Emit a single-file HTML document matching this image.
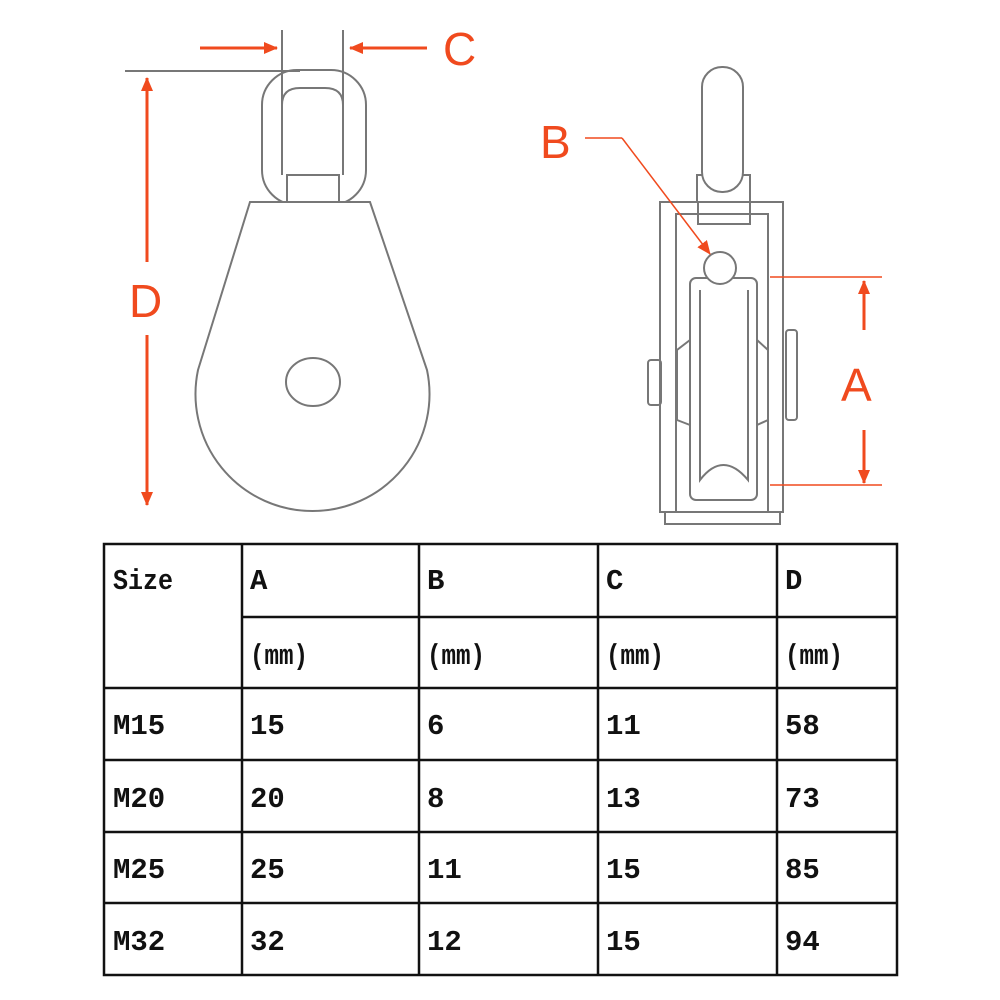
<!DOCTYPE html>
<html><head><meta charset="utf-8"><style>
body{margin:0;background:#fff;width:1000px;height:1000px;overflow:hidden;position:relative}
svg{position:absolute;left:0;top:0}
.t{font-family:"Liberation Mono","Noto Sans CJK SC",monospace;font-weight:bold;font-size:29px;fill:#111}
.r{font-family:"Liberation Sans",sans-serif;font-size:46px;fill:#f04a1e}
</style></head><body>
<svg width="1000" height="1000" viewBox="0 0 1000 1000">
<defs>
<marker id="ah" markerWidth="14" markerHeight="14" refX="13" refY="7" orient="auto" markerUnits="userSpaceOnUse">
<path d="M0,1 L14,7 L0,13 Z" fill="#f04a1e"/></marker>
</defs>
<g fill="none" stroke="#777" stroke-width="2">
<line x1="282" y1="30" x2="282" y2="175"/>
<line x1="343" y1="30" x2="343" y2="175"/>
<line x1="125" y1="71" x2="300" y2="71"/>
<rect x="262" y="70" width="104" height="135" rx="35"/>
<path d="M282,175 L282,105 Q282,88 300,88 L325,88 Q343,88 343,105 L343,175"/>
<rect x="287" y="175" width="52" height="27" fill="#fff"/>
<path d="M250,202 L370,202 L427,370 A117,117 0 1 1 198,370 Z" fill="#fff"/>
<ellipse cx="313" cy="382" rx="27" ry="24"/>
<rect x="702" y="67" width="41" height="125" rx="20"/>
<path d="M697,202 L697,175 L702,175 M743,175 L750,175 L750,202"/>
<rect x="698" y="202" width="52" height="22"/>
<rect x="660" y="202" width="123" height="310"/>
<path d="M676,512 L676,214 L768,214 L768,512"/>
<rect x="665" y="512" width="115" height="12"/>
<rect x="690" y="278" width="67" height="222" rx="6"/>
<path d="M700,290 L700,480 Q723,450 748,480 L748,290"/>
<circle cx="720" cy="268" r="16" fill="#fff"/>
<path d="M690,340 L677,350 L677,420 L690,425"/>
<path d="M757,340 L768,350 L768,420 L757,425"/>
<rect x="648" y="360" width="13" height="45" rx="3"/>
<rect x="786" y="330" width="11" height="90" rx="3"/>
</g>
<g stroke="#f04a1e" stroke-width="3" fill="none">
<line x1="200" y1="48" x2="277" y2="48" marker-end="url(#ah)"/>
<line x1="427" y1="48" x2="350" y2="48" marker-end="url(#ah)"/>
<line x1="147" y1="262" x2="147" y2="78" marker-end="url(#ah)"/>
<line x1="147" y1="335" x2="147" y2="505" marker-end="url(#ah)"/>
<line x1="864" y1="330" x2="864" y2="281" marker-end="url(#ah)"/>
<line x1="864" y1="430" x2="864" y2="483" marker-end="url(#ah)"/>
<line x1="585" y1="138" x2="622" y2="138" stroke-width="1.5"/>
<line x1="622" y1="138" x2="710" y2="254" stroke-width="1.5" marker-end="url(#ah)"/>
<line x1="770" y1="277" x2="882" y2="277" stroke-width="1.5"/>
<line x1="770" y1="485" x2="882" y2="485" stroke-width="1.5"/>
</g>
<text class="r" x="443" y="65">C</text>
<text class="r" x="129" y="317">D</text>
<text class="r" x="841" y="401">A</text>
<text class="r" x="540" y="158">B</text>
<g stroke="#111" stroke-width="2.5" fill="none">
<rect x="104" y="544" width="793" height="431"/>
<line x1="242" y1="617" x2="897" y2="617"/>
<line x1="104" y1="688" x2="897" y2="688"/>
<line x1="104" y1="760" x2="897" y2="760"/>
<line x1="104" y1="832" x2="897" y2="832"/>
<line x1="104" y1="903" x2="897" y2="903"/>
<line x1="242" y1="544" x2="242" y2="975"/>
<line x1="419" y1="544" x2="419" y2="975"/>
<line x1="598" y1="544" x2="598" y2="975"/>
<line x1="777" y1="544" x2="777" y2="975"/>
</g>
<g class="t">
<text x="113" y="589" textLength="60" lengthAdjust="spacingAndGlyphs">Size</text>
<text x="250" y="589">A</text><text x="427" y="589">B</text><text x="606" y="589">C</text><text x="785" y="589">D</text>
<text x="250" y="664" textLength="58" lengthAdjust="spacingAndGlyphs">(mm)</text><text x="427" y="664" textLength="58" lengthAdjust="spacingAndGlyphs">(mm)</text><text x="606" y="664" textLength="58" lengthAdjust="spacingAndGlyphs">(mm)</text><text x="785" y="664" textLength="58" lengthAdjust="spacingAndGlyphs">(mm)</text>
<text x="113" y="734">M15</text><text x="250" y="734">15</text><text x="427" y="734">6</text><text x="606" y="734">11</text><text x="785" y="734">58</text>
<text x="113" y="807">M20</text><text x="250" y="807">20</text><text x="427" y="807">8</text><text x="606" y="807">13</text><text x="785" y="807">73</text>
<text x="113" y="878">M25</text><text x="250" y="878">25</text><text x="427" y="878">11</text><text x="606" y="878">15</text><text x="785" y="878">85</text>
<text x="113" y="950">M32</text><text x="250" y="950">32</text><text x="427" y="950">12</text><text x="606" y="950">15</text><text x="785" y="950">94</text>
</g>
</svg>
</body></html>
